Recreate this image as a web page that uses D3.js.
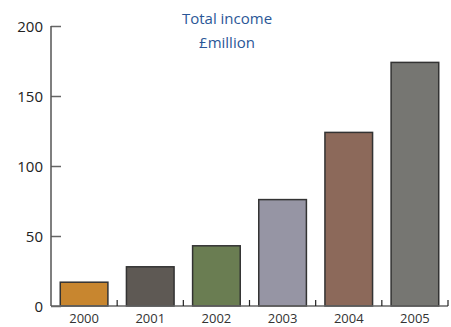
<!DOCTYPE html>
<html>
<head>
<meta charset="utf-8">
<script src="https://cdn.jsdelivr.net/npm/d3@7"></script>
<style>
  body { margin: 0; background: #fff; }
  text { font-family: "Open Sans", "Noto Sans", sans-serif; }
</style>
</head>
<body>
<div id="chart"></div>
<script>
var years = ["2000", "2001", "2002", "2003", "2004", "2005"];
var income = [17, 28, 43, 76, 124, 174];
var barColours = ["#c8862f", "#5e5954", "#6a7d52", "#9695a4", "#8c695a", "#767672"];
var yTicks = [0, 50, 100, 150, 200];
var titleLines = ["Total income", "£million"];

function barChart() {
    var w = 451;
    var h = 327;
    var left = 51, right = 448, top = 26, bottom = 306;

    var svg = d3.select("#chart")
                .append("svg")
                .attr("width", w)
                .attr("height", h);

    var xScale = d3.scaleBand() //one band per year
                    .domain(years)
                    .range([left, right])
                    .paddingInner(0.28)
                    .paddingOuter(0.14);

    var yScale = d3.scaleLinear()
                    .domain([0, 200])
                    .range([bottom, top]);

    svg.selectAll("rect")
        .data(income)
        .enter()
        .append("rect")
        .attr("x", function(d, i) { return xScale(years[i]); })
        .attr("y", function(d) { return yScale(d); })
        .attr("width", xScale.bandwidth())
        .attr("height", function(d) { return bottom - yScale(d); })
        .style("fill", function(d, i) { return barColours[i]; })
        .style("stroke", "#333")
        .style("stroke-width", 1.5);

    // x axis line + small upward ticks between bands
    svg.append("line")
        .attr("x1", left).attr("x2", right)
        .attr("y1", bottom).attr("y2", bottom)
        .style("stroke", "#666").style("stroke-width", 1.5);

    var step = xScale.step();
    svg.selectAll(".xtick")
        .data(years)
        .enter()
        .append("line")
        .attr("class", "xtick")
        .attr("x1", function(d) { return xScale(d) - xScale.paddingOuter() * step + step; })
        .attr("x2", function(d) { return xScale(d) - xScale.paddingOuter() * step + step; })
        .attr("y1", bottom).attr("y2", bottom - 6)
        .style("stroke", "#222").style("stroke-width", 1.2);

    svg.selectAll(".xlabel")
        .data(years)
        .enter()
        .append("text")
        .attr("class", "xlabel")
        .attr("x", function(d) { return xScale(d) + xScale.bandwidth() / 2; })
        .attr("y", 323)
        .attr("text-anchor", "middle")
        .style("font-size", "13px")
        .style("fill", "#333")
        .text(function(d) { return d; });

    // y axis: ticks pointing right
    var yAxis = d3.axisRight(yScale)
                    .tickValues(yTicks)
                    .tickSize(10)
                    .tickFormat(function(d) { return d; });

    var gy = svg.append("g")
        .attr("transform", "translate(" + left + ",0)")
        .call(yAxis);
    gy.select(".domain").remove();
    gy.selectAll(".tick line").style("stroke", "#666").style("stroke-width", 1.5);
    gy.selectAll(".tick text")
        .attr("x", -8)
        .attr("dy", "0.35em")
        .attr("text-anchor", "end")
        .style("font-size", "15px")
        .style("font-family", "'Open Sans', 'Noto Sans', sans-serif")
        .style("fill", "#222");

    svg.append("line")
        .attr("x1", left).attr("x2", left)
        .attr("y1", yScale(200)).attr("y2", bottom)
        .style("stroke", "#555").style("stroke-width", 1.5);

    svg.selectAll(".title")
        .data(titleLines)
        .enter()
        .append("text")
        .attr("class", "title")
        .attr("x", 227)
        .attr("y", function(d, i) { return 24 + i * 24; })
        .attr("text-anchor", "middle")
        .style("font-size", "15px")
        .style("fill", "#2b5797")
        .text(function(d) { return d; });
}

window.onload = barChart;
</script>
</body>
</html>
